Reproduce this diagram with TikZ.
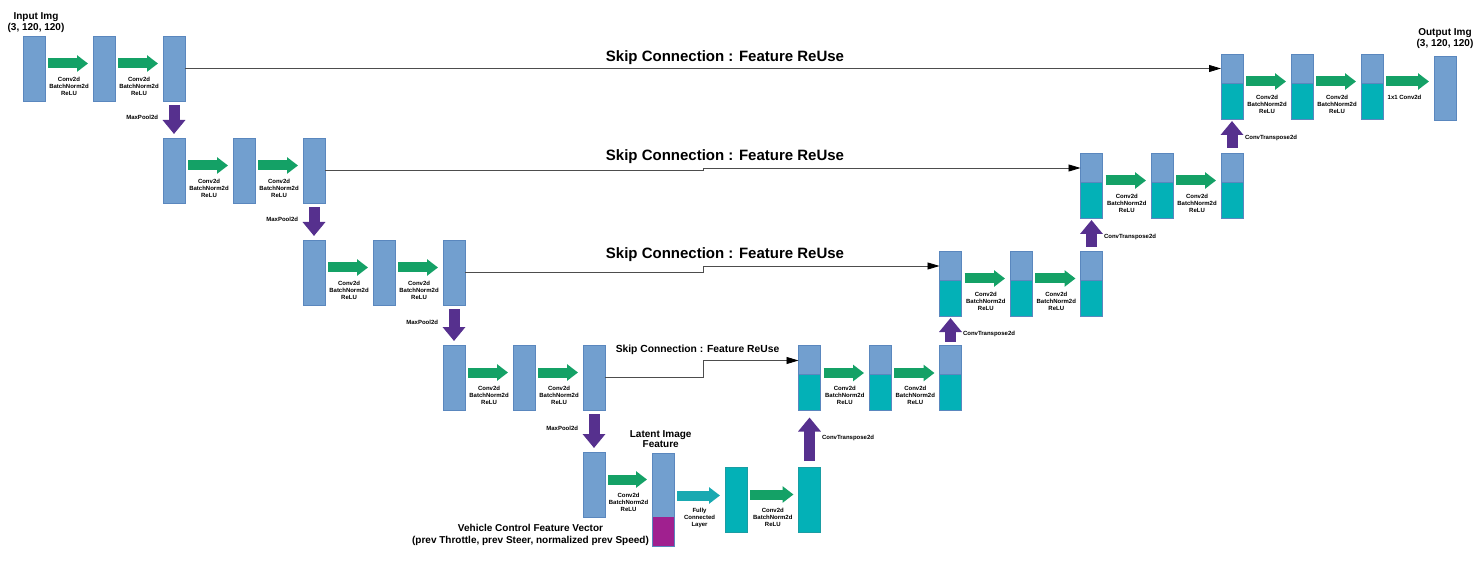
\documentclass[tikz,border=0pt]{standalone}
\usepackage{fontspec}
\setmainfont{Liberation Sans}
\usetikzlibrary{arrows.meta,calc}
\definecolor{bluec}{HTML}{729FCF}
\definecolor{bordc}{HTML}{5A87BE}
\definecolor{tealc}{HTML}{03B1B7}
\definecolor{tbord}{HTML}{1A9DA3}
\definecolor{greenc}{HTML}{14A166}
\definecolor{purpc}{HTML}{56308E}
\definecolor{magc}{HTML}{A0208F}
\definecolor{fcc}{HTML}{19A9B1}
\definecolor{skipc}{HTML}{4D4D4D}
\begin{document}
\begin{tikzpicture}[x=1pt,y=-1pt,
 blk/.style={draw=bordc, fill=bluec, line width=0.6pt, minimum width=22pt, minimum height=65pt, inner sep=0pt, outer sep=0pt},
 dblk/.style={blk, path picture={\fill[tealc] (path picture bounding box.south west) rectangle ([yshift=36pt]path picture bounding box.south east);
   \draw[bordc, line width=0.6pt] ([yshift=36pt]path picture bounding box.south west) -- ([yshift=36pt]path picture bounding box.south east);}},
 latb/.style={blk, minimum height=93pt, path picture={\fill[magc] (path picture bounding box.south west) rectangle ([yshift=29pt]path picture bounding box.south east);}},
 tblk/.style={blk, fill=tealc, draw=tbord},
 garr/.style={draw=greenc, line width=10pt, shorten <=3pt, shorten >=5pt, -{Triangle[length=11pt,width=16pt]}},
 farr/.style={garr, draw=fcc},
 parr/.style={draw=purpc, line width=11pt, -{Triangle[length=14pt,width=22pt]}},
 skip/.style={draw=skipc, line width=0.8pt, -{Triangle[length=12pt,width=7pt,color=black]}},
 lbl/.style={font=\fontsize{6}{7}\selectfont\bfseries, align=center, inner sep=0pt, outer sep=0pt, text=black},
 ttl/.style={font=\fontsize{15}{17}\selectfont\bfseries, inner sep=0pt, anchor=base},
 mlbl/.style={font=\fontsize{10}{11}\selectfont\bfseries, align=center, inner sep=0pt}
]
\useasboundingbox (0,0) rectangle (1484,564);

% encoder
\node[blk] (a1) at (34,68.5) {};
\node[blk] (a2) at (104,68.5) {};
\node[blk] (a3) at (174,68.5) {};
\node[blk] (b1) at (174,170.5) {};
\node[blk] (b2) at (244,170.5) {};
\node[blk] (b3) at (314,170.5) {};
\node[blk] (c1) at (314,272.5) {};
\node[blk] (c2) at (384,272.5) {};
\node[blk] (c3) at (454,272.5) {};
\node[blk] (d1) at (454,377.5) {};
\node[blk] (d2) at (524,377.5) {};
\node[blk] (d3) at (594,377.5) {};
\node[blk] (e1) at (594,484.5) {};
\node[latb] (lat) at (663,499.5) {};
\node[tblk] (t1) at (736,499.5) {};
\node[tblk] (t2) at (809.5,499.5) {};
% decoder
\node[dblk] (u1) at (809.5,378) {};
\node[dblk] (u2) at (880,378) {};
\node[dblk] (u3) at (950.5,378) {};
\node[dblk] (v1) at (950.5,283.5) {};
\node[dblk] (v2) at (1021,283.5) {};
\node[dblk] (v3) at (1091.5,283.5) {};
\node[dblk] (w1) at (1091.5,185.5) {};
\node[dblk] (w2) at (1162,185.5) {};
\node[dblk] (w3) at (1232,185.5) {};
\node[dblk] (x1) at (1232,86.5) {};
\node[dblk] (x2) at (1302,86.5) {};
\node[dblk] (x3) at (1372,86.5) {};
\node[blk, minimum height=64pt] (out) at (1445,88) {};

% green conv arrows
\foreach \s/\t in {a1/a2,a2/a3,b1/b2,b2/b3,c1/c2,c2/c3,d1/d2,d2/d3,e1/lat,t1/t2,u1/u2,u2/u3,v1/v2,v2/v3,w1/w2,w2/w3,x1/x2,x2/x3}{
  \draw[garr] ([yshift=5pt]\s.east) -- ([yshift=5pt]\s.east -| \t.west)
    node[lbl, midway, yshift=-22.5pt] {Conv2d\\BatchNorm2d\\ReLU};
}
\draw[farr] ([yshift=4pt]lat.east) -- ([yshift=4pt]lat.east -| t1.west)
  node[lbl, midway, yshift=-22.5pt] {Fully\\Connected\\Layer};
\draw[garr] ([yshift=5pt]x3.east) -- ([yshift=5pt]x3.east -| out.west)
  node[lbl, midway, yshift=-16pt, xshift=-4pt] {1x1 Conv2d};

% maxpool arrows
\foreach \s/\t in {a3/b1,b3/c1,c3/d1,d3/e1}{
  \draw[parr, shorten <=4pt, shorten >=4pt] (\s.south) -- (\t.north)
    node[lbl, pos=0.43, left=16pt] {MaxPool2d};
}
% conv transpose arrows
\draw[parr, shorten <=6pt, shorten >=7pt] (t2.north) -- (u1.south)
  node[lbl, pos=0.51, right=12.5pt] {ConvTranspose2d};
\draw[parr, shorten <=4pt, shorten >=2pt] (u3.north) -- (v1.south)
  node[lbl, pos=0.4, right=12.5pt] {ConvTranspose2d};
\draw[parr, shorten <=4pt, shorten >=2pt] (v3.north) -- (w1.south)
  node[lbl, pos=0.42, right=12.5pt] {ConvTranspose2d};
\draw[parr, shorten <=5pt, shorten >=2pt] (w3.north) -- (x1.south)
  node[lbl, pos=0.44, right=13pt] {ConvTranspose2d};

% skip connections
\coordinate (stepx) at (703,0);
\draw[skip] (a3.east) -- (a3.east -| x1.west);
\draw[skip] (b3.east) -| ([yshift=17.5pt]w1.west -| stepx) -- ([yshift=17.5pt]w1.west);
\draw[skip] (c3.east) -| ([yshift=17.5pt]v1.west -| stepx) -- ([yshift=17.5pt]v1.west);
\draw[skip] (d3.east) -| ([yshift=17.5pt]u1.west -| stepx) -- ([yshift=17.5pt]u1.west);
\node[ttl] (sk1) at (725,62) {Skip Connection : Feature ReUse};
\node[ttl] (sk2) at (725,161) {Skip Connection : Feature ReUse};
\node[ttl] (sk3) at (725,259) {Skip Connection : Feature ReUse};
\node[ttl, font=\fontsize{10.3}{12}\selectfont\bfseries] (sk4) at (697.5,352) {Skip Connection : Feature ReUse};

% titles
\node[mlbl] (inl) at (36,23) {Input Img\\(3, 120, 120)};
\node[mlbl] (outl) at (1445,39) {Output Img\\(3, 120, 120)};
\node[mlbl, font=\fontsize{10}{10}\selectfont\bfseries] (latl) at (660.7,439) {Latent Image\\Feature};
\node[mlbl, font=\fontsize{10}{11.5}\selectfont\bfseries] (vcl) at (530.5,534.7) {Vehicle Control Feature Vector\\(prev Throttle, prev Steer, normalized prev Speed)};
\end{tikzpicture}
\end{document}
